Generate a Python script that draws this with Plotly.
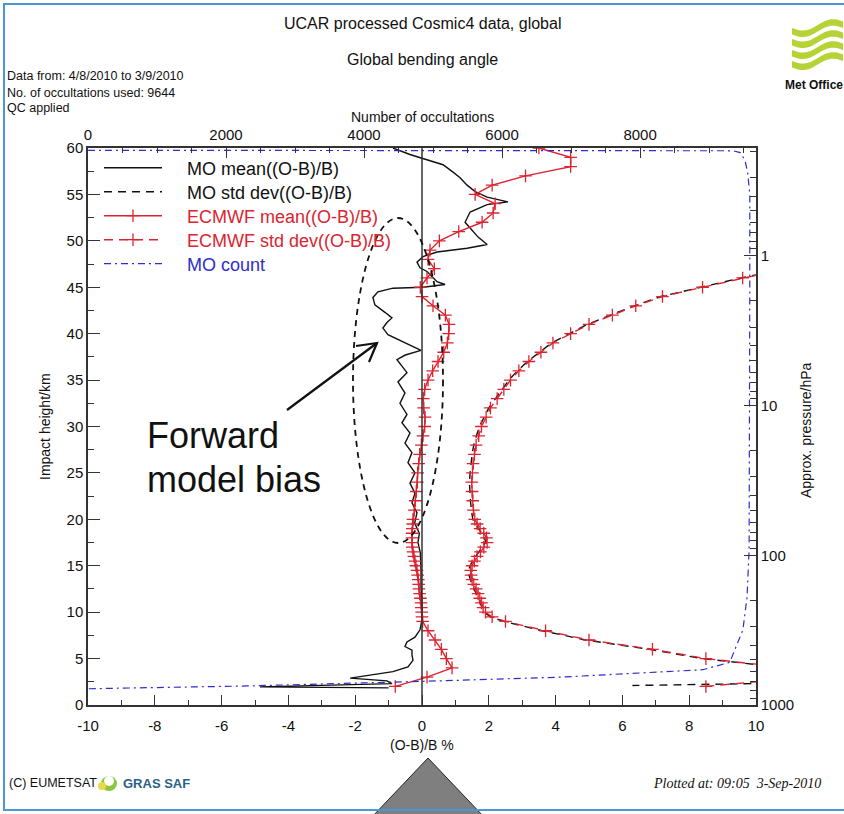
import math
import plotly.graph_objects as go

# ---------------- data ----------------
# MO mean((O-B)/B) profile [%] against impact height [km]
mo_height = [60.0, 59.3, 58.9, 58.2, 57.4, 56.8, 56.0, 55.3, 54.7, 54.2,
             53.9, 53.1, 52.0, 51.4, 50.4, 49.6, 49.2, 48.8, 48.3, 47.7,
             47.1, 46.7, 46.1, 45.6, 45.3, 45.0, 44.9, 44.5, 43.9, 43.1,
             42.3, 41.7, 41.2, 40.6, 39.9, 39.1, 38.2, 37.7, 37.2, 36.5,
             35.8, 34.8, 33.6, 32.5, 31.3, 30.4, 29.3, 28.2, 27.2, 26.1,
             25.0, 23.9, 22.8, 21.8, 20.7, 19.6, 18.5, 17.5, 16.4, 14.5,
             12.7, 11.0, 9.2, 8.1, 7.3, 6.8, 6.3, 5.9, 5.4, 4.8,
             4.1, 3.6, 3.2, 2.9, 2.6, 2.3, 1.95, 1.85]
mo_mean = [-0.87, -0.36, 0.0, 0.63, 0.93, 1.14, 1.35, 1.59, 1.95, 2.57,
           1.95, 1.44, 1.29, 1.44, 1.68, 1.95, 1.35, 0.45, 0.03, -0.15,
           -0.06, 0.15, 0.30, 0.45, 0.69, 0.03, -0.87, -1.32, -1.47, -1.41,
           -1.11, -0.90, -1.05, -1.17, -1.02, -0.57, -0.03, -0.50, -0.75, -0.60,
           -0.45, -0.72, -0.51, -0.66, -0.45, -0.60, -0.36, -0.51, -0.30, -0.42,
           -0.21, -0.36, -0.21, -0.30, -0.15, -0.22, -0.08, -0.12, -0.05, -0.03,
           -0.03, 0.0, 0.0, -0.06, -0.21, -0.45, -0.51, -0.30, -0.30, -0.27,
           -0.42, -0.87, -1.65, -2.15, -1.05, -0.90, -4.85, -1.0]

# ECMWF statistics on their levels [km]
ec_height = [60, 59, 58, 57, 56, 55, 54, 53, 52, 51,
             50, 49, 48, 47, 46, 45, 44, 43, 42, 41,
             40, 39, 38, 37, 36, 35, 34, 33, 32, 31,
             30, 29, 28, 27, 26, 25, 24, 23, 22, 21,
             20, 19.5, 19, 18.5, 18, 17.5, 17, 16.5, 16, 15.5,
             15, 14.5, 14, 13.5, 13, 12.5, 12, 11.5, 11, 10.5,
             10, 9.5, 9, 8, 7, 6, 5, 4, 3, 2]
ec_mean = [3.5, 4.45, 4.45, 3.1, 2.1, 1.59, 2.19, 2.13, 1.80, 1.1,
           0.52, 0.24, 0.18, 0.37, 0.15, -0.05, 0.0, 0.33, 0.70, 0.81,
           0.80, 0.76, 0.65, 0.48, 0.32, 0.18, 0.08, 0.04, 0.05, 0.09,
           0.08, 0.03, -0.02, -0.07, -0.10, -0.13, -0.14, -0.17, -0.20, -0.23,
           -0.27, -0.28, -0.29, -0.30, -0.30, -0.30, -0.29, -0.27, -0.24, -0.21,
           -0.18, -0.15, -0.13, -0.11, -0.10, -0.09, -0.07, -0.05, -0.03, -0.02,
           -0.01, 0.0, 0.02, 0.18, 0.39, 0.58, 0.73, 0.90, 0.15, -0.8]
ec_std = [17.5, 17.0, 16.6, 16.2, 15.8, 15.4, 15.0, 14.6, 14.2, 13.8,
          13.3, 12.7, 11.9, 10.9, 9.6, 8.4, 7.2, 6.4, 5.7, 5.0,
          4.45, 3.92, 3.56, 3.2, 2.9, 2.65, 2.45, 2.25, 2.05, 1.92,
          1.78, 1.70, 1.62, 1.57, 1.53, 1.51, 1.49, 1.50, 1.52, 1.54,
          1.58, 1.65, 1.74, 1.85, 1.93, 1.95, 1.85, 1.75, 1.65, 1.57,
          1.50, 1.46, 1.47, 1.50, 1.55, 1.62, 1.68, 1.73, 1.78, 1.83,
          1.90, 2.10, 2.5, 3.7, 5.0, 6.9, 8.5, 11.0, 11.5, 8.5]

# MO std dev((O-B)/B) [%]
mo_std_height = [60, 59, 58, 57, 56, 55, 54, 53, 52, 51,
                 50, 49, 48, 47, 46, 45, 44, 43, 42, 41,
                 40, 39, 38, 37, 36, 35, 34, 33, 32, 31,
                 30, 29, 28, 27, 26, 25, 24, 23, 22, 21,
                 20, 19.5, 19, 18.5, 18, 17.5, 17, 16.5, 16, 15.5,
                 15, 14.5, 14, 13.5, 13, 12.5, 12, 11.5, 11, 10.5,
                 10, 9.5, 9, 8, 7, 6, 5, 4, 3, 2.3, 2.1]
mo_std = [17.5, 17.0, 16.6, 16.2, 15.8, 15.4, 15.0, 14.6, 14.2, 13.8,
          13.3, 12.7, 11.9, 10.9, 9.55, 8.35, 7.15, 6.35, 5.65, 4.95,
          4.42, 3.88, 3.52, 3.16, 2.86, 2.6, 2.4, 2.2, 2.0, 1.86,
          1.72, 1.63, 1.55, 1.5, 1.46, 1.44, 1.42, 1.43, 1.45, 1.48,
          1.52, 1.6, 1.69, 1.8, 1.88, 1.9, 1.8, 1.7, 1.6, 1.51,
          1.44, 1.40, 1.41, 1.44, 1.49, 1.56, 1.62, 1.67, 1.72, 1.78,
          1.86, 2.05, 2.45, 3.6, 4.9, 6.8, 8.4, 10.9, 11.4, 9.9, 6.3]

# MO number of occultations per level
count_height = [59.75, 59.7, 59.5, 58.7, 57.3, 55.0, 45.0, 35.0, 25.0, 16.7,
                11.6, 8.1, 4.6, 3.8, 3.0, 2.6, 2.05, 1.75]
mo_count = [0, 9350, 9450, 9520, 9560, 9590, 9590, 9590, 9590, 9580,
            9550, 9490, 9300, 8910, 6840, 5100, 2300, 0]

x_ticks = [-10, -8, -6, -4, -2, 0, 2, 4, 6, 8, 10]
x_ticklabels = ["-10", "-8", "-6", "-4", "-2", "0", "2", "4", "6", "8", "10"]
count_ticks = [0, 2000, 4000, 6000, 8000]
height_ticks = [0, 5, 10, 15, 20, 25, 30, 35, 40, 45, 50, 55, 60]
pressure_ticks = [1, 10, 100, 1000]

# ---------------- styling ----------------
FONT = "Liberation Sans, Arial, Helvetica, sans-serif"
RED = "#dc2430"
BLUE = "#2d2dcc"
BLACK = "#111111"
FRAME = "#333333"
PAD = "\u00a0" * 4

# plot area in page pixels
L, R, T, B = 88, 756, 148, 705
W, H = 844, 814


def pxx(x):
    return (x - L) / (R - L)


def pxy(y):
    return (B - y) / (B - T)


cross = dict(symbol="cross-thin", size=9, line=dict(color=RED, width=1.3))

fig = go.Figure()
fig.add_trace(go.Scatter(
    x=mo_mean, y=mo_height, mode="lines", name=PAD + "MO mean((O-B)/B)",
    line=dict(color=BLACK, width=1.4), legend="legend"))
fig.add_trace(go.Scatter(
    x=mo_std, y=mo_std_height, mode="lines", name=PAD + "MO std dev((O-B)/B)",
    line=dict(color=BLACK, width=1.4, dash="8px,6px"), legend="legend2"))
fig.add_trace(go.Scatter(
    x=ec_mean, y=ec_height, mode="lines+markers",
    name=PAD + f"<span style='color:{RED}'>ECMWF mean((O-B)/B)</span>",
    line=dict(color=RED, width=1.4), marker=cross, legend="legend3"))
fig.add_trace(go.Scatter(
    x=ec_std, y=ec_height, mode="lines+markers",
    name=PAD + f"<span style='color:{RED}'>ECMWF std dev((O-B)/B)</span>",
    line=dict(color=RED, width=1.4, dash="9px,6px"), marker=cross, legend="legend4"))
fig.add_trace(go.Scatter(
    x=mo_count, y=count_height, xaxis="x2", mode="lines",
    name=PAD + f"<span style='color:{BLUE}'>MO count</span>",
    line=dict(color=BLUE, width=1.2, dash="7px,4px,2px,4px"), legend="legend5"))
# carrier for the approximate-pressure axis on the right
fig.add_trace(go.Scatter(x=[], y=[], yaxis="y2", mode="lines",
                         showlegend=False, hoverinfo="skip"))

axis_common = dict(showline=True, linecolor=FRAME, linewidth=1.5, mirror=False,
                   ticks="inside", tickcolor=FRAME, tickwidth=1.3,
                   showgrid=False, zeroline=False,
                   tickfont=dict(family=FONT, size=15, color=BLACK))

legend_rows = [168, 192, 216, 240, 264]
legends = {}
for i, yrow in enumerate(legend_rows):
    key = "legend" if i == 0 else f"legend{i + 1}"
    legends[key] = dict(x=pxx(99), y=pxy(yrow), xanchor="left", yanchor="middle",
                        bgcolor="rgba(0,0,0,0)", itemwidth=58,
                        font=dict(family=FONT, size=18, color=BLACK))

fig.update_layout(
    width=W, height=H,
    margin=dict(l=L, r=W - R, t=T, b=H - B),
    paper_bgcolor="white", plot_bgcolor="white",
    font=dict(family=FONT, color=BLACK),
    xaxis=dict(range=[-10, 10], tickvals=x_ticks, ticktext=x_ticklabels, ticklen=10,
               ticklabelstandoff=6,
               minor=dict(dtick=1, ticks="inside", ticklen=5, tickcolor=FRAME, tickwidth=1.2),
               **axis_common),
    xaxis2=dict(range=[0, 9680], overlaying="x", side="top", anchor="y",
                tickvals=count_ticks, ticklen=10,
                minor=dict(dtick=500, ticks="inside", ticklen=5, tickcolor=FRAME, tickwidth=1.2),
                **axis_common),
    yaxis=dict(range=[0, 60], tickvals=height_ticks, ticklen=12,
               minor=dict(dtick=2.5, ticks="inside", ticklen=6, tickcolor=FRAME, tickwidth=1.2),
               **axis_common),
    yaxis2=dict(type="log", range=[3, -0.72], overlaying="y", side="right", anchor="x",
                tickvals=pressure_ticks, ticktext=[str(p) for p in pressure_ticks], ticklen=12,
                minor=dict(tickvals=[m * d for d in (0.1, 1, 10, 100) for m in range(2, 10)],
                           ticks="inside", ticklen=6, tickcolor=FRAME, tickwidth=1.2),
                **axis_common),
    showlegend=True,
    hovermode=False,
    **legends,
)

# zero reference line
fig.add_shape(type="line", xref="x", yref="paper", x0=0, x1=0, y0=0, y1=1,
              line=dict(color=FRAME, width=1.5))

# annotation: dashed ellipse and arrow
fig.add_shape(type="circle", xref="paper", yref="paper",
              x0=pxx(353), x1=pxx(443), y0=pxy(543), y1=pxy(218),
              line=dict(color=BLACK, width=1.8, dash="6px,5px"))
fig.add_shape(type="line", xref="paper", yref="paper",
              x0=pxx(287), y0=pxy(410), x1=pxx(377), y1=pxy(343),
              line=dict(color=BLACK, width=2.2))
fig.add_shape(type="path", xref="paper", yref="paper",
              path=f"M{pxx(356)},{pxy(346)} L{pxx(377)},{pxy(343)} L{pxx(369)},{pxy(362)}",
              line=dict(color=BLACK, width=2.2))

# pointer triangle below the axis title
fig.add_shape(type="path", xref="paper", yref="paper",
              path=f"M{pxx(371)},{pxy(818)} L{pxx(428)},{pxy(758)} L{pxx(485)},{pxy(818)} Z",
              fillcolor="#7f7f7f", line=dict(color="#222222", width=1))

# page border
fig.add_shape(type="rect", xref="paper", yref="paper",
              x0=pxx(4), x1=pxx(870), y0=pxy(810), y1=pxy(4),
              line=dict(color="#4b97d6", width=2))

# Met Office emblem: wavy bands
for k in range(4):
    y0 = 28 + k * 11
    top, bot = [], []
    for x in range(792, 846, 3):
        off = 4 * math.sin((x - 792) / 52 * 2 * math.pi) - (x - 792) * 0.12
        top.append((x, y0 + off))
        bot.append((x, y0 + off + 6.5))
    pts = top + bot[::-1]
    path = "M" + " L".join(f"{pxx(a)},{pxy(b)}" for a, b in pts) + " Z"
    fig.add_shape(type="path", xref="paper", yref="paper", path=path,
                  fillcolor="#b6d335", line=dict(width=0))

# GRAS SAF emblem
fig.add_shape(type="circle", xref="paper", yref="paper",
              x0=pxx(101), x1=pxx(117), y0=pxy(791), y1=pxy(776),
              fillcolor="#8cc63f", line=dict(width=0))
fig.add_shape(type="circle", xref="paper", yref="paper",
              x0=pxx(104), x1=pxx(114), y0=pxy(786), y1=pxy(776),
              fillcolor="#ffffff", line=dict(width=0))
fig.add_shape(type="circle", xref="paper", yref="paper",
              x0=pxx(98), x1=pxx(106), y0=pxy(790), y1=pxy(782),
              fillcolor="#e8d84a", line=dict(width=0))


def text(x, y, s, size, xanchor="center", color=BLACK, family=FONT, angle=0):
    fig.add_annotation(x=pxx(x), y=pxy(y), xref="paper", yref="paper", text=s,
                       showarrow=False, xanchor=xanchor, yanchor="middle",
                       textangle=angle, font=dict(family=family, size=size, color=color))


text(422, 24, "UCAR processed Cosmic4 data, global", 16)
text(422, 59, "Global bending angle", 16)
text(5, 76, "Data from: 4/8/2010 to 3/9/2010", 12.5, "left")
text(5, 93, "No. of occultations used: 9644", 12.5, "left")
text(5, 108, "QC applied", 12.5, "left")
text(422, 117, "Number of occultations", 14)
text(422, 745, "(O-B)/B %", 14)
text(45, 427, "Impact height/km", 14, angle=-90)
text(806, 430, "Approx. pressure/hPa", 14, angle=-90)
text(783, 85, "<b>Met Office</b>", 12, "left")
text(7, 783, "(C) EUMETSAT", 12.5, "left")
text(121, 783, "<b>GRAS SAF</b>", 13, "left", color="#2b5f86")
text(651, 783, "<i>Plotted at: 09:05  3-Sep-2010</i>", 14, "left",
     family="Liberation Serif, Times New Roman, serif")
text(145, 435, "Forward", 36, "left")
text(145, 479, "model bias", 36, "left")

fig.write_html("out.html", config={"displayModeBar": False})
